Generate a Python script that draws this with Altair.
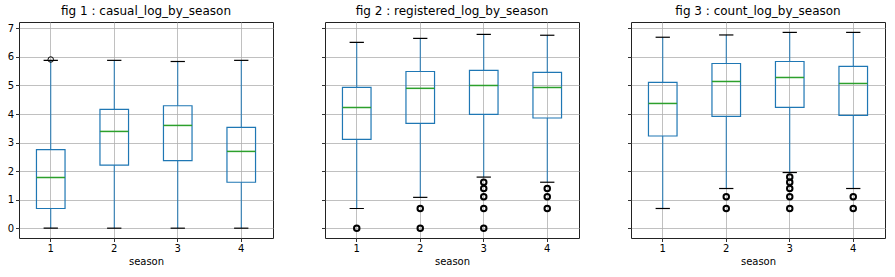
import altair as alt
import pandas as pd

seasons = ["1", "2", "3", "4"]

titles = ["fig 1 : casual_log_by_season",
          "fig 2 : registered_log_by_season",
          "fig 3 : count_log_by_season"]

# box statistics per panel: lower whisker, q1, median, q3, upper whisker
casual_lo = [0.0, 0.0, 0.0, 0.0]
casual_q1 = [0.69, 2.21, 2.37, 1.61]
casual_med = [1.78, 3.39, 3.60, 2.69]
casual_q3 = [2.75, 4.16, 4.29, 3.53]
casual_hi = [5.88, 5.88, 5.84, 5.88]
casual_out_season = ["1"]
casual_out_value = [5.91]

reg_lo = [0.69, 1.08, 1.79, 1.61]
reg_q1 = [3.11, 3.67, 3.99, 3.86]
reg_med = [4.23, 4.90, 5.00, 4.93]
reg_q3 = [4.93, 5.49, 5.53, 5.46]
reg_hi = [6.51, 6.65, 6.79, 6.76]
reg_out_season = ["1", "2", "2", "3", "3", "3", "3", "3", "4", "4", "4"]
reg_out_value = [0.0, 0.69, 0.0, 1.61, 1.39, 1.10, 0.69, 0.0, 1.39, 1.10, 0.69]

cnt_lo = [0.69, 1.39, 1.95, 1.39]
cnt_q1 = [3.23, 3.92, 4.23, 3.95]
cnt_med = [4.37, 5.14, 5.28, 5.07]
cnt_q3 = [5.11, 5.77, 5.84, 5.67]
cnt_hi = [6.69, 6.77, 6.86, 6.86]
cnt_out_season = ["2", "2", "3", "3", "3", "3", "3", "4", "4"]
cnt_out_value = [1.10, 0.69, 1.79, 1.61, 1.39, 1.10, 0.69, 1.10, 0.69]

y_values = [0, 1, 2, 3, 4, 5, 6, 7]
y_domain = [-0.344, 7.224]

BLUE = "#1f77b4"
GREEN = "#2ca02c"
FONT = "DejaVu Sans"


def panel(idx, lo, q1, med, q3, hi, out_s, out_v, ring):
    stats = pd.DataFrame({"season": seasons, "lo": lo, "q1": q1,
                          "med": med, "q3": q3, "hi": hi})
    outs = pd.DataFrame({"season": out_s, "value": out_v})

    x = alt.X("season:O", title="season", sort=seasons,
              scale=alt.Scale(paddingInner=0.55, paddingOuter=0.275),
              axis=alt.Axis(labelAngle=0, grid=True, bandPosition=0.5))
    yaxis = alt.Axis(values=y_values, grid=True, title=None,
                     labels=(idx == 0), tickCount=8)
    yscale = alt.Scale(domain=y_domain, nice=False, zero=False)

    def Y(field):
        return alt.Y(field, scale=yscale, axis=yaxis, title=None)

    base = alt.Chart(stats)
    w_low = base.mark_rule(color=BLUE, strokeWidth=1).encode(
        x=x, y=Y("lo:Q"), y2="q1:Q")
    w_high = base.mark_rule(color=BLUE, strokeWidth=1).encode(
        x=x, y=Y("q3:Q"), y2="hi:Q")
    box = base.mark_bar(fillOpacity=0, stroke=BLUE, strokeWidth=1.2).encode(
        x=x, y=Y("q1:Q"), y2="q3:Q")
    med_t = base.mark_tick(color=GREEN, size=28.6, thickness=1.5,
                           opacity=1).encode(x=x, y=Y("med:Q"))
    cap_lo = base.mark_tick(color="black", size=14.3, thickness=1.2,
                            opacity=1).encode(x=x, y=Y("lo:Q"))
    cap_hi = base.mark_tick(color="black", size=14.3, thickness=1.2,
                            opacity=1).encode(x=x, y=Y("hi:Q"))
    pts = alt.Chart(outs).mark_point(shape="circle", size=30, filled=False,
                                     color="black", strokeWidth=ring,
                                     opacity=1).encode(
        x=x, y=Y("value:Q"))
    return alt.layer(w_low, w_high, box, med_t, cap_lo, cap_hi, pts).properties(
        width=254, height=216,
        title=alt.TitleParams(titles[idx], fontSize=12, font=FONT,
                              fontWeight="normal", color="black", offset=4))


p1 = panel(0, casual_lo, casual_q1, casual_med, casual_q3, casual_hi,
           casual_out_season, casual_out_value, 1)
p2 = panel(1, reg_lo, reg_q1, reg_med, reg_q3, reg_hi,
           reg_out_season, reg_out_value, 2)
p3 = panel(2, cnt_lo, cnt_q1, cnt_med, cnt_q3, cnt_hi,
           cnt_out_season, cnt_out_value, 2)

chart = alt.hconcat(p1, p2, p3, spacing=46).properties(
    padding={"left": 6, "top": 4, "right": 5, "bottom": 4}
).configure_view(
    stroke="#222222", strokeWidth=1
).configure_axis(
    domain=False, gridColor="#b0b0b0", gridWidth=0.8,
    tickColor="black", tickSize=3.5, tickWidth=0.8,
    labelFont=FONT, labelFontSize=10, labelColor="black", labelPadding=2,
    titleFont=FONT, titleFontSize=10, titleColor="black",
    titleFontWeight="normal", titlePadding=3
).configure_concat(spacing=46)

chart.save("out.html", embed_options={"renderer": "svg", "actions": False})
